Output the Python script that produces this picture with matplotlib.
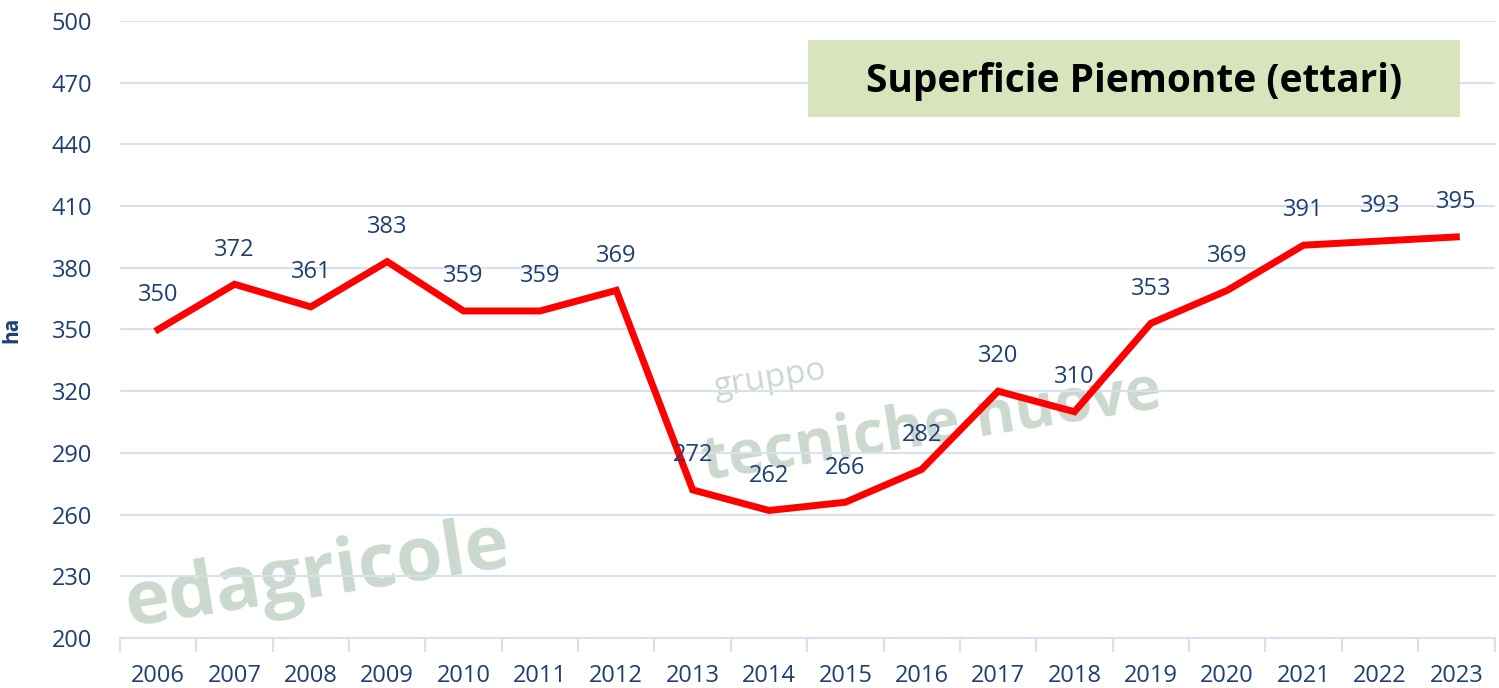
import matplotlib.pyplot as plt
from matplotlib.patches import Rectangle
import numpy as np

# data
years = ['2006', '2007', '2008', '2009', '2010', '2011', '2012', '2013', '2014',
         '2015', '2016', '2017', '2018', '2019', '2020', '2021', '2022', '2023']
surface = [350, 372, 361, 383, 359, 359, 369, 272, 262, 266, 282, 320, 310, 353, 369, 391, 393, 395]
y_ticks = [200, 230, 260, 290, 320, 350, 380, 410, 440, 470, 500]

label_col = '#1F3F73'
grid_col = '#D6E0F0'

plt.rcParams['font.family'] = ['Open Sans', 'DejaVu Sans']

fig = plt.figure(figsize=(14.99, 6.88), dpi=100)
ax = fig.add_axes([0.080, 0.0727, 0.917, 0.8968])

x = np.arange(len(years))
ax.plot(x, surface, color='#FF0000', lw=5, solid_joinstyle='miter', zorder=3)

for xi, v in zip(x, surface):
    ax.annotate(str(v), (xi, v), xytext=(0, 25), textcoords='offset points',
                ha='center', va='center', fontsize=17, color=label_col, zorder=4)

# faint watermark
ax.text(0.0, 0.10, 'edagricole', transform=ax.transAxes, fontsize=54, fontweight='bold',
        color='#A9BFAD', alpha=0.6, rotation=9, ha='left', va='center', zorder=1)
ax.text(0.42, 0.34, 'tecniche nuove', transform=ax.transAxes, fontsize=44, fontweight='bold',
        color='#A9BFAD', alpha=0.6, rotation=9, ha='left', va='center', zorder=1)
ax.text(0.43, 0.42, 'gruppo', transform=ax.transAxes, fontsize=24,
        color='#A9BFAD', alpha=0.6, rotation=9, ha='left', va='center', zorder=1)

ax.set_xlim(-0.5, len(years) - 0.5)
ax.set_ylim(200, 500)
ax.set_yticks(y_ticks)
ax.set_xticks(x)
ax.set_xticklabels(years)
ax.set_xticks(np.arange(-0.5, len(years)), minor=True)
ax.tick_params(axis='x', which='major', length=0, pad=19, labelsize=17, labelcolor=label_col)
ax.tick_params(axis='x', which='minor', length=10, width=1.5, color=grid_col)
ax.tick_params(axis='y', length=0, pad=20, labelsize=17, labelcolor=label_col)

ax.grid(axis='y', color=grid_col, lw=1.5, zorder=0)
for s in ['top', 'right', 'left']:
    ax.spines[s].set_visible(False)
ax.spines['bottom'].set_color(grid_col)
ax.spines['bottom'].set_linewidth(1.5)

ax.set_ylabel('ha', fontsize=15, fontweight='bold', color=label_col)
ax.yaxis.set_label_coords(-0.071, 0.5)

# title box
fig.add_artist(Rectangle((0.539, 0.830), 0.435, 0.112, transform=fig.transFigure,
                         fc='#D8E4BC', ec='none', zorder=5))
fig.text(0.7565, 0.881, 'Superficie Piemonte (ettari)', ha='center', va='center',
         fontsize=28, fontweight='bold', color='black', zorder=6)

fig.savefig('out.png', dpi=100)
